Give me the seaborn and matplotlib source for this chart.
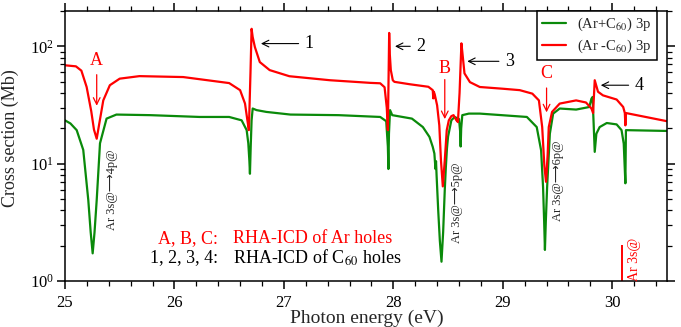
import matplotlib
matplotlib.use("Agg")
import matplotlib.pyplot as plt
import seaborn as sns
from matplotlib.ticker import MultipleLocator, LogLocator, NullFormatter

# theme and fonts (set family after set_theme)
sns.set_theme(style="ticks")
plt.rcParams['font.family'] = ['Liberation Serif', 'DejaVu Sans']
plt.rcParams['mathtext.fontset'] = 'stix'
plt.rcParams['axes.linewidth'] = 1.1

GREEN = "#0a8a0a"
RED = "#ff0000"

# (Ar+C60) 3p  -- photon energy (eV) / cross section (Mb)
green_e = [25.00, 25.05, 25.107, 25.167, 25.213, 25.235, 25.253, 25.27, 25.29, 25.32,
           25.38, 25.47, 25.78, 26.23, 26.50, 26.614, 26.66, 26.675, 26.685, 26.69,
           26.697, 26.705, 26.715, 26.75, 26.84, 27.06, 27.50, 27.88, 27.935, 27.95,
           27.955, 27.96, 27.97, 27.99, 28.17, 28.27, 28.33, 28.36, 28.375, 28.385,
           28.39, 28.395, 28.41, 28.425, 28.44, 28.455, 28.47, 28.48, 28.49, 28.50,
           28.53, 28.56, 28.60, 28.61, 28.615, 28.62, 28.63, 28.69, 28.79, 29.22,
           29.31, 29.35, 29.368, 29.378, 29.385, 29.393, 29.405, 29.43, 29.46, 29.52,
           29.67, 29.76, 29.79, 29.81, 29.82, 29.83, 29.84, 29.855, 29.885, 29.95,
           30.04, 30.085, 30.105, 30.12, 30.125, 30.50]
green_cs = [23.4, 22.0, 19.3, 13.1, 4.9, 2.6, 1.72, 2.6, 4.9, 14.9,
            24.2, 26.2, 25.9, 25.0, 25.0, 23.4, 19.3, 14.9, 10.5, 8.2,
            14.0, 23.4, 29.5, 28.6, 27.6, 26.2, 25.9, 25.0, 23.0, 14.0,
            9.0, 18.0, 28.6, 25.9, 24.2, 20.5, 16.9, 13.9, 12.2, 9.0,
            10.5, 8.0, 4.0, 2.2, 1.46, 2.6, 6.0, 9.4, 13.5, 17.0,
            23.4, 25.0, 24.0, 19.0, 14.0, 20.0, 25.9, 26.7, 26.7, 25.0,
            20.5, 13.0, 6.3, 3.2, 1.84, 3.2, 6.3, 18.0, 26.7, 29.5,
            28.9, 30.0, 30.4, 35.8, 37.0, 22.0, 12.6, 18.0, 20.5, 22.2,
            21.6, 19.3, 14.8, 6.8, 19.3, 19.0]

# (Ar -C60) 3p
red_e = [25.00, 25.10, 25.15, 25.198, 25.24, 25.265, 25.29, 25.31, 25.35, 25.41,
         25.50, 25.68, 26.08, 26.50, 26.60, 26.645, 26.665, 26.68, 26.695, 26.705,
         26.715, 26.735, 26.78, 26.87, 27.05, 27.42, 27.79, 27.88, 27.92, 27.94,
         27.95, 27.962, 27.968, 27.977, 27.995, 28.01, 28.15, 28.32, 28.36, 28.365,
         28.37, 28.378, 28.40, 28.42, 28.435, 28.452, 28.47, 28.488, 28.507, 28.53,
         28.55, 28.575, 28.59, 28.605, 28.622, 28.63, 28.638, 28.65, 28.70, 28.79,
         29.00, 29.155, 29.27, 29.33, 29.36, 29.38, 29.395, 29.41, 29.42, 29.45,
         29.52, 29.67, 29.76, 29.81, 29.825, 29.84, 29.87, 29.915, 30.04, 30.10,
         30.115, 30.12, 30.125, 30.50]
red_cs = [68.9, 67.5, 62.0, 45.0, 28.0, 19.5, 16.3, 21.0, 34.6, 46.6,
          53.0, 55.7, 54.7, 48.6, 42.3, 32.5, 24.0, 19.3, 60.0, 141.0,
          120.0, 98.6, 73.4, 62.7, 55.6, 51.4, 48.8, 48.4, 44.8, 30.0,
          19.3, 130.0, 85.0, 62.7, 51.4, 49.8, 47.5, 45.2, 42.3, 36.0,
          41.0, 39.0, 31.4, 21.2, 10.7, 6.4, 10.7, 19.3, 23.4, 25.4,
          25.9, 23.5, 22.6, 40.0, 106.0, 90.0, 76.0, 58.8, 49.5, 45.0,
          43.5, 42.3, 39.5, 34.6, 20.5, 9.5, 7.0, 12.0, 20.5, 27.6,
          32.5, 34.6, 33.2, 29.5, 27.0, 51.4, 41.0, 38.2, 35.2, 30.4,
          27.0, 21.2, 27.0, 23.0]

# Ar 3s threshold marker
ar3s_edge = 30.09
ar3s_top = 2.02

fig = plt.figure(figsize=(6.81, 3.27), dpi=100)
ax = fig.add_axes([0.0954, 0.1407, 0.884, 0.8257])

sns.lineplot(x=green_e, y=green_cs, color=GREEN, lw=1.6, estimator=None, sort=False,
             label=r"(Ar+C$_{60}$) 3p", ax=ax)
sns.lineplot(x=red_e, y=red_cs, color=RED, lw=1.6, estimator=None, sort=False,
             label=r"(Ar -C$_{60}$) 3p", ax=ax)

ax.set_yscale('log')
ax.set_xlim(25, 30.5)
ax.set_ylim(1, 200)
ax.xaxis.set_major_locator(MultipleLocator(1))
ax.xaxis.set_minor_locator(MultipleLocator(0.2))
ax.yaxis.set_major_locator(LogLocator(base=10))
ax.yaxis.set_minor_locator(LogLocator(base=10, subs=range(2, 10)))
ax.yaxis.set_minor_formatter(NullFormatter())
ax.tick_params(which='both', direction='out', top=True, right=True, colors='black')
ax.tick_params(which='major', length=6, width=1.1, labelsize=12)
ax.tick_params(axis='x', which='major', pad=4)
ax.tick_params(axis='y', which='major', pad=2)
ax.tick_params(which='minor', length=3.5, width=0.9)
for s in ax.spines.values():
    s.set_color('black')

ax.set_xlabel('Photon energy (eV)', fontsize=14)
ax.set_ylabel('Cross section (Mb)', fontsize=13)
ax.xaxis.set_label_coords(0.502, -0.108)
ax.yaxis.set_label_coords(-0.076, 0.53)

# A, B, C markers (red)
for lab, xe, yt, y0, y1 in [('A', 25.29, 76, 60.5, 29.5),
                            ('B', 28.47, 65, 55, 22.7),
                            ('C', 29.40, 58.9, 46.6, 25.9)]:
    ax.text(xe, yt, lab, color=RED, fontsize=13, ha='center', va='center')
    ax.annotate('', xy=(xe, y1), xytext=(xe, y0),
                arrowprops=dict(arrowstyle='->', color=RED, lw=0.9))

# 1-4 markers (black)
for lab, x0, x1, yv in [('1', 27.16, 26.765, 105.5),
                        ('2', 28.18, 27.99, 100),
                        ('3', 28.99, 28.65, 74.5),
                        ('4', 30.175, 29.87, 46.6)]:
    ax.annotate('', xy=(x1, yv), xytext=(x0, yv),
                arrowprops=dict(arrowstyle='->', color='black', lw=0.8))
    ax.text(x0 + 0.03, yv, lab, color='black', fontsize=13, ha='left', va='center')

# rotated resonance labels
rot_fam = ['Liberation Serif', 'DejaVu Sans']
ax.text(25.43, 5.95, 'Ar 3s@\u27f64p@', rotation=90, fontsize=9, ha='center', va='center', family=rot_fam)
ax.text(28.58, 4.6, 'Ar 3s@\u27f65p@', rotation=90, fontsize=9, ha='center', va='center', family=rot_fam)
ax.text(29.505, 7.2, 'Ar 3s@\u27f66p@', rotation=90, fontsize=9, ha='center', va='center', family=rot_fam)
ax.vlines(ar3s_edge, 1, ar3s_top, color=RED, lw=1.4)
ax.text(30.20, 1.54, 'Ar 3s@', rotation=90, fontsize=10, color=RED, ha='center', va='center', family=rot_fam)

# explanation block
ax.text(26.397, 2.32, 'A, B, C:', color=RED, fontsize=13, ha='right', va='center')
ax.text(26.534, 2.32, 'RHA-ICD of Ar holes', color=RED, fontsize=13, ha='left', va='center')
ax.text(26.397, 1.57, '1, 2, 3, 4:', color='black', fontsize=13, ha='right', va='center')
ax.text(26.534, 1.57, r'RHA-ICD of C$_{60}$ holes', color='black', fontsize=13, ha='left', va='center')

leg = ax.legend(loc='upper right', bbox_to_anchor=(0.983, 1.0), borderaxespad=0,
                fontsize=10.5, frameon=True, fancybox=False, framealpha=1,
                handlelength=1.6, handletextpad=0.8, labelspacing=0.3, borderpad=0.35)
leg.get_frame().set_edgecolor('black')
leg.get_frame().set_linewidth(1.1)

fig.savefig('out.png', dpi=100)
